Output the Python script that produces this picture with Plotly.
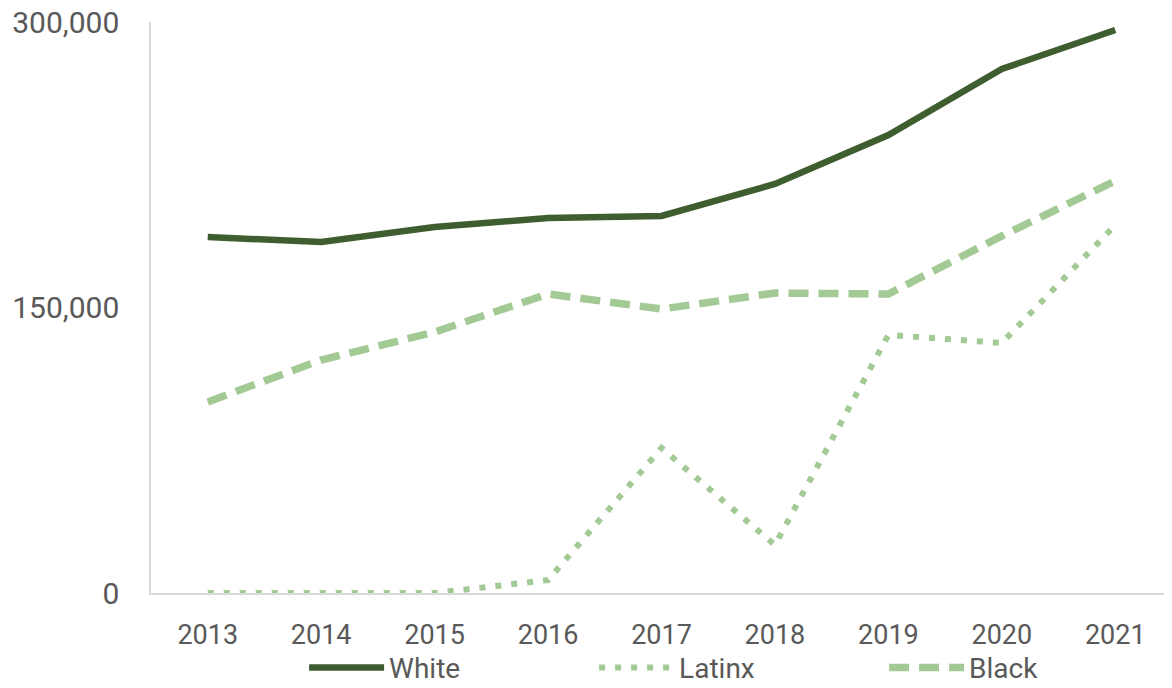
import plotly.graph_objects as go

years = ["2013", "2014", "2015", "2016", "2017", "2018", "2019", "2020", "2021"]
white = [187000, 184400, 192300, 197000, 198100, 214900, 240600, 275300, 295800]
latinx = [0, 0, 0, 6800, 76200, 25200, 135600, 131400, 193300]
black = [100400, 122400, 137100, 157100, 149200, 157600, 157100, 187600, 216500]

y_ticks = [0, 150000, 300000]
y_tick_text = ["0", "150,000", "300,000"]

dark = "#3F5E30"
light = "#A3C994"
font = "Roboto"

fig = go.Figure()
fig.add_trace(go.Scatter(x=years, y=white, name="White", mode="lines",
                         line=dict(color=dark, width=6.5)))
fig.add_trace(go.Scatter(x=years, y=latinx, name="Latinx", mode="lines",
                         line=dict(color=light, width=6, dash="6px,10px")))
fig.add_trace(go.Scatter(x=years, y=black, name="Black", mode="lines",
                         line=dict(color=light, width=7.5, dash="20px,10px")))

fig.update_layout(
    width=1172, height=688,
    margin=dict(l=143, r=8, t=14, b=103, autoexpand=False),
    plot_bgcolor="white", paper_bgcolor="white",
    font=dict(family=font, size=28, color="#595959"),
    showlegend=True,
    legend=dict(orientation="h", x=0.576, xanchor="center", y=-0.131, yanchor="middle",
                bgcolor="rgba(0,0,0,0)",
                font=dict(family=font, size=28, color="#595959"),
                entrywidth=200, itemwidth=75, tracegroupgap=0),
    xaxis=dict(type="category", range=[-0.5, 8.5], showgrid=False,
               showline=True, linecolor="#D9D9D9", linewidth=1.5,
               ticks="", tickfont=dict(size=27), ticklabelstandoff=17),
    yaxis=dict(range=[0, 300000], tickvals=y_ticks, ticktext=y_tick_text,
               showgrid=False, zeroline=False, ticklabeloverflow="allow",
               showline=True, linecolor="#D9D9D9", linewidth=1.5,
               ticks="", tickfont=dict(size=30), ticklabelstandoff=24),
)

fig.write_html("out.html")
